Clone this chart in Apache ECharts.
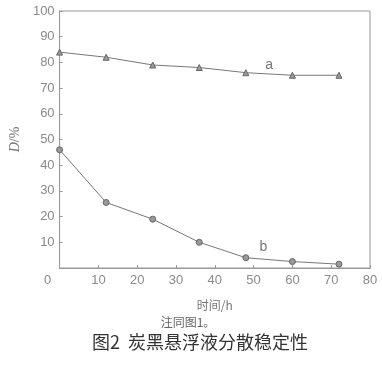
<!DOCTYPE html>
<html>
<head>
<meta charset="utf-8">
<script src="https://cdn.jsdelivr.net/npm/echarts@6/dist/echarts.min.js"></script>
<style>
  html,body{margin:0;padding:0;background:#fff;}
  #chart{width:382px;height:378px;}
</style>
</head>
<body>
<div id="chart"></div>
<script>
// 时间 (h)
var hours = [0, 12, 24, 36, 48, 60, 72];
// 曲线 a, b 的 D/%
var seriesA = [84, 82, 79, 78, 76, 75, 75];
var seriesB = [46, 25.5, 19, 10, 4, 2.5, 1.5];
// 曲线标注位置 [x, y]
var labelA = [54, 79];
var labelB = [52.5, 8];

var xTicks = [0, 10, 20, 30, 40, 50, 60, 70, 80];
var yTicks = [0, 10, 20, 30, 40, 50, 60, 70, 80, 90, 100];

function pairs(xs, ys){
  return xs.map(function(x, i){ return [x, ys[i]]; });
}

var gray = '#8a8a8a';
var chart = echarts.init(document.getElementById('chart'));
chart.setOption({
  animation: false,
  title: [
    {
      text: '注同图1。',
      left: 183, top: 311, textAlign: 'center',
      textStyle: {fontFamily: 'Noto Sans CJK SC', fontSize: 12, fontWeight: 'normal', color: '#666'}
    },
    {
      text: '图2  炭黑悬浮液分散稳定性',
      left: 195, top: 328, textAlign: 'center',
      textStyle: {fontFamily: 'Noto Sans CJK SC', fontSize: 18, fontWeight: 'normal', color: '#333'}
    }
  ],
  grid: {
    left: 55, right: 12, top: 11, bottom: 110,
    show: true, borderColor: '#999', borderWidth: 1
  },
  xAxis: {
    type: 'value',
    min: xTicks[0], max: xTicks[xTicks.length - 1], interval: 10,
    name: '时间/h',
    nameLocation: 'middle',
    nameGap: 31,
    nameTextStyle: {fontFamily: 'Noto Sans CJK SC', fontSize: 12, color: '#777'},
    axisLine: {lineStyle: {color: '#999'}},
    axisTick: {inside: true, length: 3, lineStyle: {color: '#999'}},
    splitLine: {show: false},
    axisLabel: {
      margin: 6,
      color: gray, fontFamily: 'Liberation Sans', fontSize: 13,
      formatter: function(v){ return v === 0 ? '{z|0}' : String(v); },
      rich: {z: {color: gray, fontFamily: 'Liberation Sans', fontSize: 13, padding: [0, 24, 0, 0]}}
    }
  },
  yAxis: {
    type: 'value',
    min: yTicks[0], max: yTicks[yTicks.length - 1], interval: 10,
    name: '{i|D}/%',
    nameLocation: 'middle',
    nameGap: 37,
    nameRotate: 90,
    nameTextStyle: {
      fontFamily: 'Liberation Serif', fontSize: 14, color: '#777',
      rich: {i: {fontFamily: 'Liberation Serif', fontStyle: 'italic', fontSize: 14, color: '#777'}}
    },
    axisLine: {lineStyle: {color: '#999'}},
    axisTick: {inside: true, length: 3, lineStyle: {color: '#999'}},
    splitLine: {show: false},
    axisLabel: {
      margin: 5,
      color: gray, fontFamily: 'Liberation Sans', fontSize: 13,
      formatter: function(v){ return v === 0 ? '' : String(v); }
    }
  },
  series: [
    {
      name: 'a',
      type: 'line',
      data: pairs(hours, seriesA),
      symbol: 'triangle',
      symbolSize: 6,
      lineStyle: {color: '#777', width: 1},
      itemStyle: {color: '#999', borderColor: '#666', borderWidth: 1},
      markPoint: {
        symbol: 'circle',
        symbolSize: 1,
        itemStyle: {color: 'rgba(0,0,0,0)'},
        label: {show: true, position: 'inside', formatter: 'a', color: '#777', fontFamily: 'Liberation Sans', fontSize: 14},
        data: [{coord: labelA}]
      }
    },
    {
      name: 'b',
      type: 'line',
      data: pairs(hours, seriesB),
      symbol: 'circle',
      symbolSize: 6,
      lineStyle: {color: '#777', width: 1},
      itemStyle: {color: '#999', borderColor: '#666', borderWidth: 1},
      markPoint: {
        symbol: 'circle',
        symbolSize: 1,
        itemStyle: {color: 'rgba(0,0,0,0)'},
        label: {show: true, position: 'inside', formatter: 'b', color: '#777', fontFamily: 'Liberation Sans', fontSize: 14},
        data: [{coord: labelB}]
      }
    }
  ]
});
</script>
</body>
</html>
